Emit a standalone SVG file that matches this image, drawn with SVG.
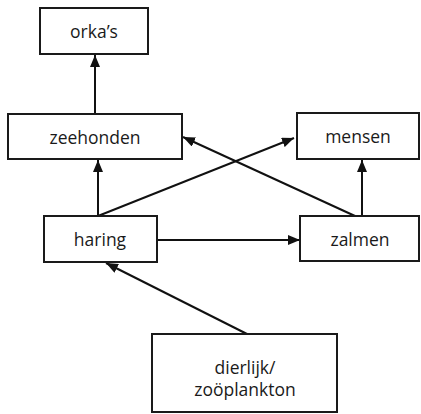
<svg xmlns="http://www.w3.org/2000/svg" width="421" height="414" viewBox="0 0 421 414">
<defs>
<marker id="ah" viewBox="0 0 12 10" refX="12" refY="5" markerWidth="12" markerHeight="10" markerUnits="userSpaceOnUse" orient="auto">
<path d="M0,0 L12,5 L0,10 Z" fill="#111"/>
</marker>
<style>
.box{fill:#fff;stroke:#1a1a1a;stroke-width:2}
.lbl{font-family:"Open Sans","Noto Sans",sans-serif;font-size:17.5px;fill:#1a1a1a;text-anchor:middle;dominant-baseline:central}
.cn{stroke:#111;stroke-width:2;fill:none;marker-end:url(#ah)}
</style>
</defs>
<rect width="421" height="414" fill="#fff"/>
<g id="connectors">
<line class="cn" x1="95" y1="114" x2="95" y2="55"/>
<line class="cn" x1="98" y1="216" x2="98" y2="160"/>
<line class="cn" x1="98" y1="216" x2="294" y2="138"/>
<line class="cn" x1="355" y1="216" x2="183" y2="137"/>
<line class="cn" x1="362" y1="216" x2="362" y2="160"/>
<line class="cn" x1="157" y1="240" x2="300" y2="240"/>
<line class="cn" x1="247" y1="334" x2="106" y2="263"/>
</g>
<g id="orkas"><rect class="box" x="40" y="8" width="108" height="46"/><text class="lbl" x="94" y="31">orka’s</text></g>
<g id="zeehonden"><rect class="box" x="8" y="114" width="174" height="45"/><text class="lbl" x="95" y="137">zeehonden</text></g>
<g id="mensen"><rect class="box" x="297" y="113" width="122" height="46"/><text class="lbl" x="358" y="136">mensen</text></g>
<g id="haring"><rect class="box" x="44" y="216" width="113" height="46"/><text class="lbl" x="100" y="239">haring</text></g>
<g id="zalmen"><rect class="box" x="300" y="216" width="119" height="45"/><text class="lbl" x="360" y="239">zalmen</text></g>
<g id="dierlijk"><rect class="box" x="152" y="334" width="185" height="78"/><text class="lbl" x="245" y="367">dierlijk/</text><text class="lbl" x="245" y="389">zoöplankton</text></g>
</svg>
